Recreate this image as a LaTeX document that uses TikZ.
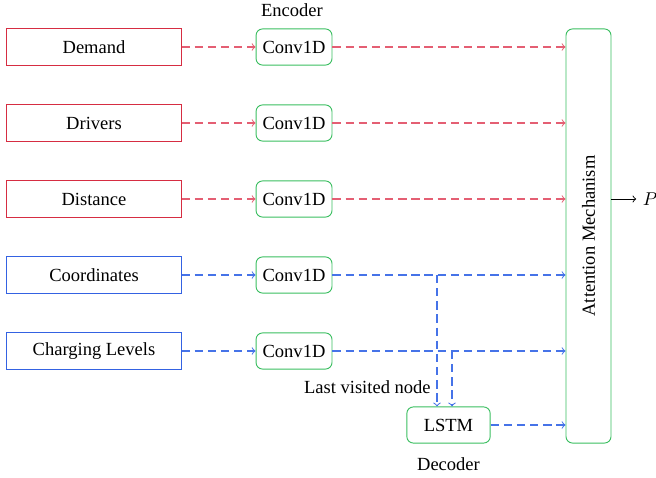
\documentclass[tikz,border=0pt]{standalone}
\usepackage{fontspec}
\setmainfont{Liberation Serif}
\usetikzlibrary{positioning}
\definecolor{inred}{RGB}{214,45,66}
\definecolor{flowred}{RGB}{228,95,115}
\definecolor{inblue}{RGB}{52,98,226}
\definecolor{flowblue}{RGB}{70,115,232}
\definecolor{encgreen}{RGB}{58,190,96}
\tikzset{
  inbox/.style={draw, line width=0.5pt, minimum width=94pt, minimum height=20pt, inner sep=2pt, font=\normalsize},
  redbox/.style={inbox, draw=inred},
  bluebox/.style={inbox, draw=inblue},
  encbox/.style={draw=encgreen, line width=0.5pt, rounded corners=3.5pt, minimum width=41pt, minimum height=19.5pt, inner sep=2pt},
  flow/.style={->, line width=0.55pt, dash pattern=on 4.5pt off 2.6pt},
  redflow/.style={flow, draw=flowred},
  blueflow/.style={flow, draw=flowblue},
}
\begin{document}
\begin{tikzpicture}[x=0.54pt,y=-0.54pt]
  \useasboundingbox (0,0) rectangle (656,478);

  % input features
  \node[redbox]  (dem) at (94,47)  {Demand};
  \node[redbox]  (drv) at (94,123) {Drivers};
  \node[redbox]  (dst) at (94,199) {Distance};
  \node[bluebox] (crd) at (94,275) {Coordinates};
  \node[bluebox] (chg) at (94,351) {Charging Levels};

  % encoder convolutions
  \node[encbox] (c1) at (294,47)  {Conv1D};
  \node[encbox] (c2) at (294,123) {Conv1D};
  \node[encbox] (c3) at (294,199) {Conv1D};
  \node[encbox] (c4) at (294,275) {Conv1D};
  \node[encbox] (c5) at (294,351) {Conv1D};
  \node (enc) at (292,10) {Encoder};

  % attention block
  \node[draw=encgreen, line width=0.5pt, rounded corners=3.5pt, minimum width=24.3pt, minimum height=223.6pt, inner sep=0pt] (att) at (588.5,236) {};
  \node[rotate=90] (attlbl) at (att.center) {Attention Mechanism};
  \node (out) at (650,199) {$P$};

  % decoder
  \node[encbox, minimum width=45pt] (lstm) at (448.5,425) {LSTM};
  \node (dec) at (448.5,464) {Decoder};

  % input -> encoder
  \draw[redflow]  (dem) -- (c1);
  \draw[redflow]  (drv) -- (c2);
  \draw[redflow]  (dst) -- (c3);
  \draw[blueflow] (crd) -- (c4);
  \draw[blueflow] (chg) -- (c5);

  % encoder -> attention
  \draw[redflow]  (c1.east) -- (c1.east -| att.west);
  \draw[redflow]  (c2.east) -- (c2.east -| att.west);
  \draw[redflow]  (c3.east) -- (c3.east -| att.west);
  \draw[blueflow] (c4.east) -- (c4.east -| att.west);
  \draw[blueflow] (c5.east) -- (c5.east -| att.west);

  % branches into the decoder
  \coordinate (b1) at (437,275);
  \coordinate (b2) at (452,351);
  \draw[blueflow] (b1) -- (b1 |- lstm.north);
  \draw[blueflow] (b2) -- (b2 |- lstm.north);
  \node[anchor=east, inner sep=0pt] (lvn) at (431,387) {Last visited node};

  % decoder -> attention, attention -> output
  \draw[blueflow] (lstm.east) -- (lstm.east -| att.west);
  \draw[->, line width=0.5pt] (att.east |- out) -- (out);
\end{tikzpicture}
\end{document}
